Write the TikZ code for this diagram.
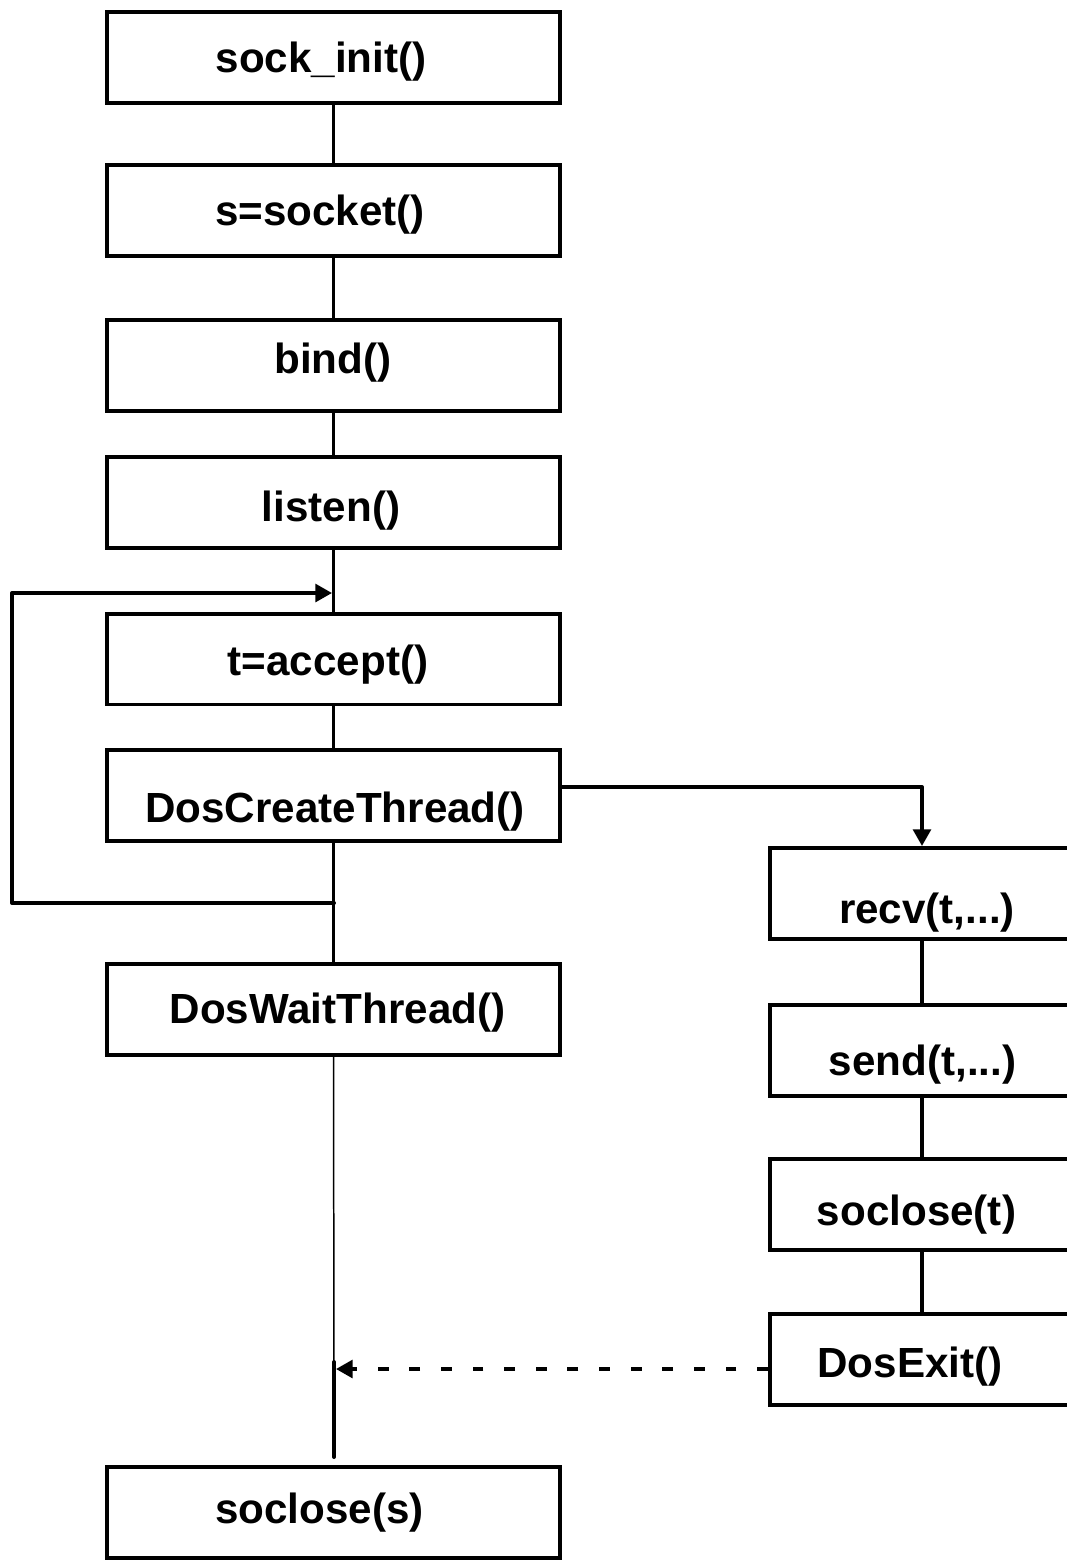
\documentclass[tikz,border=0pt]{standalone}
\usepackage{fontspec}
\setmainfont{Liberation Sans}
\usetikzlibrary{arrows.meta}
\tikzset{
  box/.style={draw=black, line width=2.27pt, rectangle, minimum width=9.06cm, minimum height=1.82cm, inner sep=0pt, fill=white},
  rbox/.style={box, minimum width=6.08cm},
  lbl/.style={anchor=base, inner sep=0pt, font=\fontsize{24}{28}\selectfont\bfseries},
  conn/.style={line width=2.27pt, line cap=round, line join=round},
  thinconn/.style={line width=0.85pt},
  tip/.style={-{Triangle[length=9.5pt,width=10pt]}},
  dashconn/.style={line width=2.27pt, dash pattern=on 6.2pt off 11.8pt}
}
\begin{document}
\begin{tikzpicture}[x=0.02cm,y=-0.02cm]
\useasboundingbox (0,0) rectangle (1067,1560);
% left column boxes
\node[box] (b1) at (333.5,57.5) {};
\node[box] (b2) at (333.5,210.5) {};
\node[box] (b3) at (333.5,365.5) {};
\node[box] (b4) at (333.5,502.5) {};
\node[box] (b5) at (333.5,659) {};
\node[box] (b6) at (333.5,795.5) {};
\node[box] (b7) at (333.5,1009) {};
\node[box] (b8) at (333.5,1512) {};
% right column boxes
\node[rbox] (r1) at (922,893.5) {};
\node[rbox] (r2) at (922,1050) {};
\node[rbox] (r3) at (922,1204) {};
\node[rbox] (r4) at (922,1359.5) {};
% labels
\node[lbl] (t1) at (321,72) {sock\_init()};
\node[lbl] (t2) at (320,225) {s=socket()};
\node[lbl] (t3) at (333,373) {bind()};
\node[lbl] (t4) at (331,521) {listen()};
\node[lbl] (t5) at (328,675) {t=accept()};
\node[lbl] (t6) at (335,822) {DosCreateThread()};
\node[lbl] (t7) at (337.5,1023) {DosWaitThread()};
\node[lbl] (t8) at (319.5,1523) {soclose(s)};
\node[lbl] (u1) at (927,923) {recv(t,...)};
\node[lbl] (u2) at (922.5,1075) {send(t,...)};
\node[lbl] (u3) at (916.5,1225) {soclose(t)};
\node[lbl] (u4) at (910,1377) {DosExit()};
% coordinates
\coordinate (loopin) at (334,593);
\coordinate (loopout) at (334,903);
\coordinate (loopL) at (12,903);
\coordinate (loopT) at (12,593);
\coordinate (forkR) at (922,787);
\coordinate (merge) at (334,1369);
\coordinate (mergeTop) at (334,1362);
\coordinate (mergeBot) at (334,1457);
% left column connectors
\draw[conn] (b1.south) -- (b2.north);
\draw[conn] (b2.south) -- (b3.north);
\draw[conn] (b3.south) -- (b4.north);
\draw[conn] (b4.south) -- (b5.north);
\draw[conn] (b6.south) -- (b7.north);
\draw[conn] (b5.south) -- (b6.north);
% loop back
\draw[conn,tip] (loopout) -- (loopL) -- (loopT) -- ([xshift=-1.1pt]loopin);
% fork to thread
\draw[conn,tip] (b6.east |- forkR) -- (forkR) -- (r1.north);
% right column connectors
\draw[conn] (r1.south) -- (r2.north);
\draw[conn] (r2.south) -- (r3.north);
\draw[conn] (r3.south) -- (r4.north);
% wait to close
\draw[thinconn] (b7.south) -- (merge);
\draw[conn] (mergeTop) -- (mergeBot);
\draw[dashconn,tip] (r4.west |- merge) -- ([xshift=1.1pt]merge);
\end{tikzpicture}
\end{document}
